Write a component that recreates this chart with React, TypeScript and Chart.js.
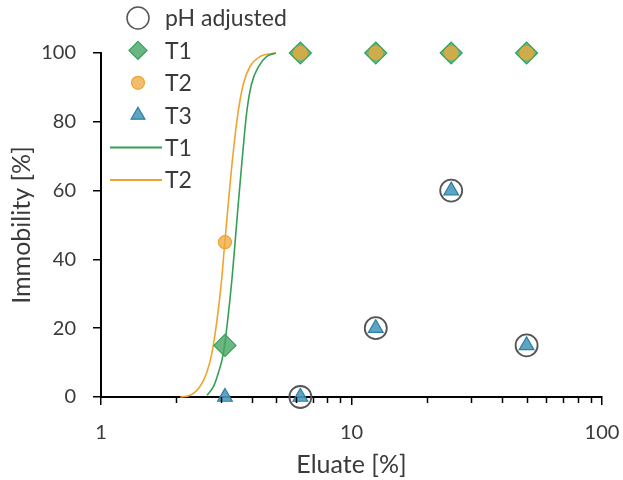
import React, { useEffect, useRef } from 'react';
import { Chart, registerables } from 'chart.js';

Chart.register(...registerables);

// ---- data ----
const phX = [6.25, 12.5, 25, 50];
const phY = [0, 20, 60, 15];
const t1X = [3.125, 6.25, 12.5, 25, 50];
const t1Y = [15, 100, 100, 100, 100];
const t2X = [3.125, 6.25, 12.5, 25, 50];
const t2Y = [45, 100, 100, 100, 100];
const t3X = [3.125, 6.25, 12.5, 25, 50];
const t3Y = [0, 0, 20, 60, 15];

const fitT1X = [2.65, 2.81, 2.94, 3.08, 3.2, 3.33, 3.43, 3.53, 3.68, 3.82, 3.99, 4.25, 4.59, 4.99];
const fitT1Y = [0.5, 3, 7, 12.7, 22, 34, 45, 56, 71, 83, 91, 96, 99, 100];
const fitT2X = [2.07, 2.27, 2.48, 2.64, 2.77, 2.9, 3.03, 3.12, 3.22, 3.37, 3.53, 3.7, 3.93, 4.32, 4.99];
const fitT2Y = [0, 0.5, 3, 7, 12.7, 22, 34, 45, 56, 71, 83, 91, 96, 99, 100];

const xMajorTicks = [1, 10, 100];
const xMinorTicks = [2, 3, 4, 5, 6, 7, 8, 9, 20, 30, 40, 50, 60, 70, 80, 90];
const yTicks = [0, 20, 40, 60, 80, 100];

const legendLabels = ['pH adjusted', 'T1', 'T2', 'T3', 'T1', 'T2'];

const FONT = 'Lato, "Open Sans", sans-serif';
const TEXT = '#3a3a3a';

const GREEN = '#35a055';
const GREEN_FILL = 'rgba(70,165,100,0.8)';
const ORANGE = '#eea52f';
const ORANGE_FILL = 'rgba(238,168,60,0.75)';
const BLUE = '#2f7ea0';
const BLUE_FILL = 'rgba(75,155,190,0.9)';
const GRAY = '#555555';

const toPts = (xs: number[], ys: number[]) => xs.map((x, i) => ({ x, y: ys[i] }));

function drawMarker(ctx: CanvasRenderingContext2D, kind: string, x: number, y: number, r: number, fill: string, stroke: string, lw: number) {
  ctx.save();
  ctx.beginPath();
  if (kind === 'circle') {
    ctx.arc(x, y, r, 0, Math.PI * 2);
  } else if (kind === 'diamond') {
    ctx.moveTo(x, y - r);
    ctx.lineTo(x + r, y);
    ctx.lineTo(x, y + r);
    ctx.lineTo(x - r, y);
    ctx.closePath();
  } else if (kind === 'triangle') {
    for (let i = 0; i < 3; i++) {
      const a = (i * 2 * Math.PI) / 3;
      const px = x + Math.sin(a) * r;
      const py = y - Math.cos(a) * r;
      if (i === 0) ctx.moveTo(px, py);
      else ctx.lineTo(px, py);
    }
    ctx.closePath();
  }
  ctx.fillStyle = fill;
  ctx.fill();
  ctx.lineWidth = lw;
  ctx.strokeStyle = stroke;
  ctx.stroke();
  ctx.restore();
}

const legendPlugin = {
  id: 'customLegend',
  afterDatasetsDraw(chart: any) {
    const ctx = chart.ctx as CanvasRenderingContext2D;
    const left = chart.chartArea.left;
    const markerX = left + 37;
    const textX = left + 64;
    const top = 18;
    const step = 32.4;
    const items = [
      { kind: 'circle', r: 11, fill: 'rgba(255,255,255,0)', stroke: GRAY, lw: 1.5 },
      { kind: 'diamond', r: 9, fill: GREEN_FILL, stroke: GREEN, lw: 1.2 },
      { kind: 'circle', r: 6.5, fill: ORANGE_FILL, stroke: ORANGE, lw: 1.2 },
      { kind: 'triangle', r: 8, fill: BLUE_FILL, stroke: BLUE, lw: 1.2 },
      { kind: 'line', color: GREEN },
      { kind: 'line', color: ORANGE },
    ];
    ctx.save();
    ctx.font = `23px ${FONT}`;
    ctx.textBaseline = 'middle';
    ctx.textAlign = 'left';
    items.forEach((it: any, i) => {
      const y = top + i * step;
      if (it.kind === 'line') {
        ctx.beginPath();
        ctx.moveTo(left + 9, y);
        ctx.lineTo(left + 61, y);
        ctx.strokeStyle = it.color;
        ctx.lineWidth = 2;
        ctx.stroke();
      } else {
        drawMarker(ctx, it.kind, markerX, y, it.r, it.fill, it.stroke, it.lw);
      }
      ctx.fillStyle = TEXT;
      ctx.fillText(legendLabels[i], textX, y + 1);
    });
    ctx.restore();
  },
};

const minorTickPlugin = {
  id: 'minorTicks',
  afterDraw(chart: any) {
    const ctx = chart.ctx as CanvasRenderingContext2D;
    const xs = chart.scales.x;
    const yb = chart.chartArea.bottom;
    ctx.save();
    ctx.strokeStyle = '#000';
    ctx.lineWidth = 1.5;
    xMinorTicks.forEach((v) => {
      const px = Math.round(xs.getPixelForValue(v)) + 0.5;
      ctx.beginPath();
      ctx.moveTo(px, yb);
      ctx.lineTo(px, yb + 6);
      ctx.stroke();
    });
    ctx.restore();
  },
};

export default function App() {
  const ref = useRef<HTMLCanvasElement | null>(null);
  useEffect(() => {
    if (!ref.current) return;
    const chart = new Chart(ref.current, {
      type: 'scatter',
      data: {
        datasets: [
          {
            label: legendLabels[0],
            data: toPts(phX, phY),
            pointStyle: 'circle',
            pointRadius: 11,
            pointHoverRadius: 11,
            backgroundColor: 'rgba(255,255,255,0)',
            borderColor: GRAY,
            pointBorderWidth: 1.8,
            clip: false,
            order: 5,
          } as any,
          {
            label: legendLabels[1],
            data: toPts(t1X, t1Y),
            pointStyle: 'rectRot',
            pointRadius: 11,
            pointHoverRadius: 11,
            backgroundColor: GREEN_FILL,
            borderColor: GREEN,
            pointBorderWidth: 1.2,
            clip: false,
            order: 3,
          },
          {
            label: legendLabels[2],
            data: toPts(t2X, t2Y),
            pointStyle: 'circle',
            pointRadius: 6.5,
            pointHoverRadius: 6.5,
            backgroundColor: ORANGE_FILL,
            borderColor: ORANGE,
            pointBorderWidth: 1.2,
            clip: false,
            order: 2,
          },
          {
            label: legendLabels[3],
            data: toPts(t3X, t3Y),
            pointStyle: 'triangle',
            pointRadius: 8.5,
            pointHoverRadius: 8.5,
            backgroundColor: BLUE_FILL,
            borderColor: BLUE,
            pointBorderWidth: 1.2,
            clip: false,
            order: 1,
          },
          {
            type: 'line',
            label: legendLabels[4],
            data: toPts(fitT1X, fitT1Y),
            showLine: true,
            pointRadius: 0,
            borderColor: GREEN,
            borderWidth: 1.6,
            cubicInterpolationMode: 'monotone',
            fill: false,
            clip: false,
            order: 4,
          } as any,
          {
            type: 'line',
            label: legendLabels[5],
            data: toPts(fitT2X, fitT2Y),
            showLine: true,
            pointRadius: 0,
            borderColor: ORANGE,
            borderWidth: 1.6,
            cubicInterpolationMode: 'monotone',
            fill: false,
            clip: false,
            order: 4,
          } as any,
        ],
      },
      options: {
        animation: false,
        responsive: false,
        maintainAspectRatio: false,
        layout: { padding: { left: 0, top: 53, right: 21, bottom: 0 } },
        plugins: {
          legend: { display: false },
          tooltip: { enabled: false },
        },
        scales: {
          x: {
            type: 'logarithmic',
            min: 1,
            max: 100,
            afterBuildTicks: (scale: any) => {
              scale.ticks = xMajorTicks.map((v) => ({ value: v }));
            },
            afterFit: (scale: any) => {
              scale.height = 83;
              scale.paddingLeft = 0;
              scale.paddingRight = 0;
            },
            ticks: {
              autoSkip: false,
              maxRotation: 0,
              padding: 16,
              color: TEXT,
              font: { family: FONT, size: 20 },
              callback: (v: any) => String(v),
            },
            grid: {
              display: true,
              drawOnChartArea: false,
              drawTicks: true,
              tickLength: 8,
              tickColor: '#000',
              lineWidth: 1.5,
            },
            border: { display: true, color: '#000', width: 2 },
            title: {
              display: true,
              text: 'Eluate [%]',
              color: TEXT,
              font: { family: FONT, size: 25 },
              padding: { top: 0, bottom: 0 },
            },
          },
          y: {
            type: 'linear',
            min: 0,
            max: 100,
            afterBuildTicks: (scale: any) => {
              scale.ticks = yTicks.map((v) => ({ value: v }));
            },
            afterFit: (scale: any) => {
              scale.width = 101;
              scale.paddingTop = 0;
              scale.paddingBottom = 0;
            },
            ticks: {
              padding: 17,
              color: TEXT,
              font: { family: FONT, size: 20 },
            },
            grid: {
              display: true,
              drawOnChartArea: false,
              drawTicks: true,
              tickLength: 8,
              tickColor: '#000',
              lineWidth: 1.5,
            },
            border: { display: true, color: '#000', width: 2 },
            title: {
              display: true,
              text: 'Immobility [%]',
              color: TEXT,
              font: { family: FONT, size: 25 },
              padding: { top: 7, bottom: 0 },
            },
          },
        },
      },
      plugins: [legendPlugin, minorTickPlugin],
    } as any);
    return () => chart.destroy();
  }, []);

  return (
    <div style={{ position: 'fixed', left: 0, top: 0, width: 623, height: 480, background: '#fff' }}>
      <canvas ref={ref} width={623} height={480} style={{ width: 623, height: 480, display: 'block' }} />
    </div>
  );
}
